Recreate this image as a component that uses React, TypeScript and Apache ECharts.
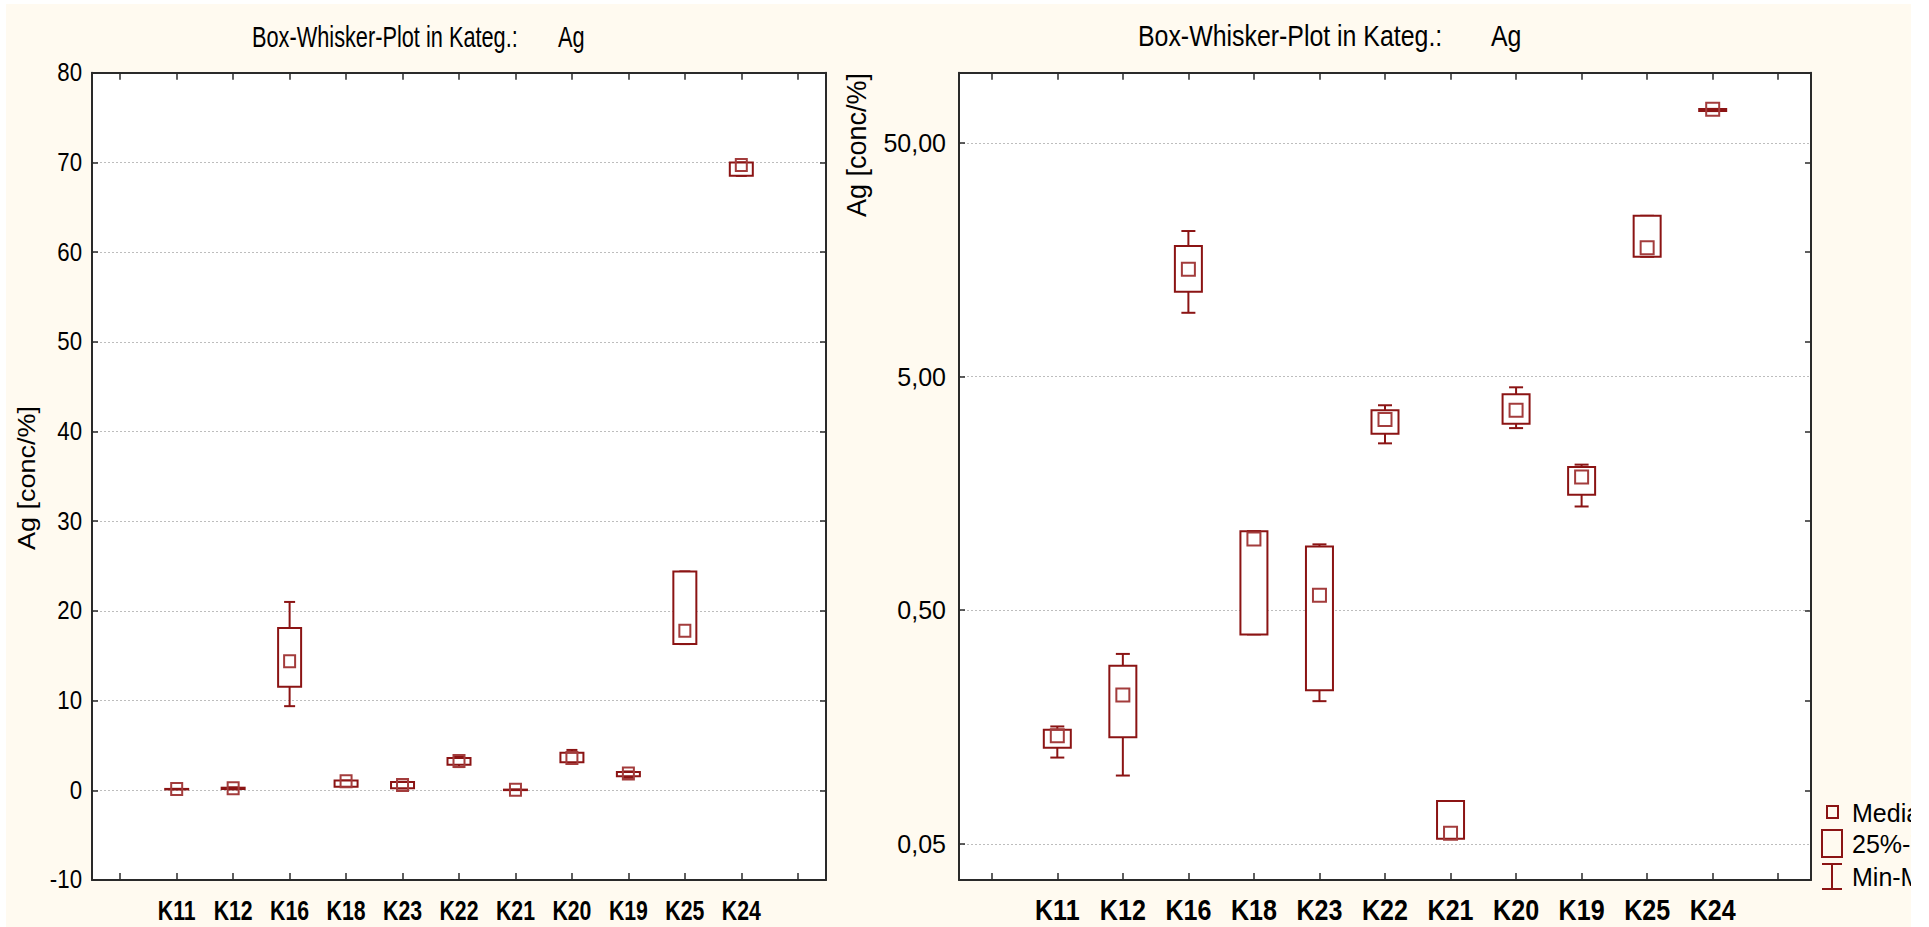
import React, { useEffect, useRef } from "react";
import * as echarts from "echarts";

// Categories in plotting order
const categories = ["K11", "K12", "K16", "K18", "K23", "K22", "K21", "K20", "K19", "K25", "K24"];

// Five-number summaries per category (Ag, conc/%)
const minValues = [0.117, 0.098, 9.38, 0.394, 0.204, 2.59, 0.0525, 3.01, 1.39, 16.3, 68.5];
const q1Values = [0.129, 0.143, 11.55, 0.394, 0.227, 2.85, 0.0525, 3.14, 1.56, 16.3, 68.5];
const medianValues = [0.145, 0.217, 14.4, 1.01, 0.58, 3.28, 0.0555, 3.59, 1.86, 17.8, 69.7];
const q3Values = [0.154, 0.289, 18.1, 1.09, 0.938, 3.59, 0.0762, 4.2, 2.05, 24.4, 70.0];
const maxValues = [0.159, 0.325, 21.0, 1.09, 0.957, 3.77, 0.0762, 4.5, 2.1, 24.4, 70.0];

// Axis ticks
const linearTickValues = [-10, 0, 10, 20, 30, 40, 50, 60, 70, 80];
const logTickValues = [0.05, 0.5, 5, 50];
const logTickLabels = ["0,05", "0,50", "5,00", "50,00"];

const titleText = "Box-Whisker-Plot in Kateg.:";
const variableName = "Ag";
const axisName = "Ag [conc/%]";
const legendLabels = ["Median", "25%-75%", "Min-Max"];

const FONT = '"Liberation Sans", Arial, sans-serif';
const BOX_COLOR = "#8B1414";
const MEDIAN_COLOR = "#A33C3C";
const AXIS_COLOR = "#2a2a2a";
const GRID_COLOR = "#bdbdbd";
const BG = "#FFFAF0";

// empty slot on each side of the category band
const axisCategories = [" ", ...categories, "  "];

const boxData = categories.map((c, i) => [
  axisCategories.indexOf(c),
  minValues[i],
  q1Values[i],
  medianValues[i],
  q3Values[i],
  maxValues[i],
]);

function makeRenderer(boxW: number, capW: number, medW: number, medH: number) {
  return (_params: any, api: any) => {
    const x = api.value(0);
    const pMin = api.coord([x, api.value(1)]);
    const pQ1 = api.coord([x, api.value(2)]);
    const pMed = api.coord([x, api.value(3)]);
    const pQ3 = api.coord([x, api.value(4)]);
    const pMax = api.coord([x, api.value(5)]);
    const cx = pMed[0];
    const ls = { stroke: BOX_COLOR, lineWidth: 2 };
    return {
      type: "group",
      children: [
        { type: "line", shape: { x1: cx, y1: pMax[1], x2: cx, y2: pQ3[1] }, style: ls },
        { type: "line", shape: { x1: cx - capW / 2, y1: pMax[1], x2: cx + capW / 2, y2: pMax[1] }, style: ls },
        { type: "line", shape: { x1: cx, y1: pQ1[1], x2: cx, y2: pMin[1] }, style: ls },
        { type: "line", shape: { x1: cx - capW / 2, y1: pMin[1], x2: cx + capW / 2, y2: pMin[1] }, style: ls },
        {
          type: "rect",
          shape: { x: cx - boxW / 2, y: pQ3[1], width: boxW, height: Math.max(pQ1[1] - pQ3[1], 0.5) },
          style: { ...ls, fill: "#fff" },
        },
        {
          type: "rect",
          shape: { x: cx - medW / 2, y: pMed[1] - medH / 2, width: medW, height: medH },
          style: { stroke: MEDIAN_COLOR, lineWidth: 2, fill: "none" },
        },
      ],
    };
  };
}

const tickStyle = { color: AXIS_COLOR, width: 1.5 };

function catAxis(gridIndex: number, position: "top" | "bottom") {
  return {
    type: "category",
    gridIndex,
    position,
    data: axisCategories,
    boundaryGap: true,
    axisLine: { show: true, onZero: false, lineStyle: { color: AXIS_COLOR, width: 2 } },
    axisTick: { show: true, inside: true, alignWithLabel: true, interval: 0, length: 7, lineStyle: tickStyle },
    // labels are drawn as condensed text elements placed with convertToPixel
    axisLabel: { show: false },
    splitLine: { show: false },
  };
}

// text element helper for titles, axis names, tick labels and legend entries
function label(text: string, x: number, y: number, size: number, extra: any = {}) {
  const { align, fontWeight, ...rest } = extra;
  return {
    type: "text",
    x,
    y,
    ...rest,
    style: {
      text,
      fontFamily: FONT,
      fontSize: size,
      fontWeight: fontWeight || "normal",
      fill: "#000",
      align: align || "left",
      verticalAlign: "middle",
    },
  };
}

const option: any = {
  animation: false,
  backgroundColor: BG,
  grid: [
    { left: 86, top: 68.7, width: 734, height: 807.3, show: true, backgroundColor: "#fff", borderWidth: 0 },
    { left: 953, top: 68.7, width: 852, height: 807.3, show: true, backgroundColor: "#fff", borderWidth: 0 },
  ],
  xAxis: [catAxis(0, "bottom"), catAxis(0, "top"), catAxis(1, "bottom"), catAxis(1, "top")],
  yAxis: [
    {
      type: "value",
      gridIndex: 0,
      position: "left",
      min: -10,
      max: 80,
      interval: 10,
      axisLine: { show: true, lineStyle: { color: AXIS_COLOR, width: 2 } },
      axisTick: { show: true, inside: true, length: 6, lineStyle: tickStyle },
      axisLabel: { show: false },
      splitLine: { show: true, lineStyle: { color: GRID_COLOR, width: 1, type: [2, 2] } },
    },
    {
      type: "value",
      gridIndex: 0,
      position: "right",
      min: -10,
      max: 80,
      interval: 10,
      axisLine: { show: true, lineStyle: { color: AXIS_COLOR, width: 2 } },
      axisTick: { show: true, inside: true, length: 6, lineStyle: tickStyle },
      axisLabel: { show: false },
      splitLine: { show: false },
    },
    {
      type: "log",
      logBase: 10,
      gridIndex: 1,
      position: "left",
      min: 0.035,
      max: 100,
      axisLine: { show: true, lineStyle: { color: AXIS_COLOR, width: 2 } },
      axisTick: { show: true, inside: true, length: 6, lineStyle: tickStyle, customValues: logTickValues },
      axisLabel: {
        customValues: logTickValues,
        fontFamily: FONT,
        fontSize: 25,
        color: "#000",
        margin: 13,
        formatter: (v: number) => {
          const i = logTickValues.findIndex((t) => Math.abs(t - v) / t < 1e-6);
          return i >= 0 ? logTickLabels[i] : "";
        },
      },
      splitLine: { show: true, lineStyle: { color: GRID_COLOR, width: 1, type: [2, 2] } },
      minorTick: { show: false },
    },
    {
      type: "value",
      gridIndex: 1,
      position: "right",
      min: -10,
      max: 80,
      interval: 10,
      axisLine: { show: true, lineStyle: { color: AXIS_COLOR, width: 2 } },
      axisTick: { show: true, inside: true, length: 6, lineStyle: tickStyle },
      axisLabel: { show: false },
      splitLine: { show: false },
    },
  ],
  series: [
    {
      type: "custom",
      xAxisIndex: 0,
      yAxisIndex: 0,
      renderItem: makeRenderer(23, 11, 11, 12),
      encode: { x: 0, y: [1, 2, 3, 4, 5] },
      data: boxData,
      z: 5,
    },
    {
      type: "custom",
      xAxisIndex: 2,
      yAxisIndex: 2,
      renderItem: makeRenderer(27, 14, 13, 13),
      encode: { x: 0, y: [1, 2, 3, 4, 5] },
      data: boxData,
      z: 5,
    },
  ],
};

const staticGraphics: any[] = [
  // panel titles, horizontally condensed
  label(titleText, 246, 32.5, 30, { scaleX: 0.725 }),
  label(variableName, 552, 32.5, 30, { scaleX: 0.725 }),
  label(titleText, 1132, 31.3, 30, { scaleX: 0.83 }),
  label(variableName, 1485, 31.3, 30, { scaleX: 0.83 }),
  // y axis names
  label(axisName, 21, 474, 27, { rotation: Math.PI / 2, align: "center", scaleY: 0.88 }),
  label(axisName, 851, 141, 27, { rotation: Math.PI / 2, align: "center" }),
  // legend
  { type: "rect", shape: { x: 1821, y: 802, width: 11, height: 12 }, style: { stroke: BOX_COLOR, lineWidth: 2, fill: "none" } },
  label(legendLabels[0], 1846, 809, 25),
  { type: "rect", shape: { x: 1816, y: 826, width: 20, height: 27 }, style: { stroke: BOX_COLOR, lineWidth: 2, fill: "none" } },
  label(legendLabels[1], 1846, 840, 25),
  { type: "line", shape: { x1: 1816, y1: 860, x2: 1836, y2: 860 }, style: { stroke: BOX_COLOR, lineWidth: 2 } },
  { type: "line", shape: { x1: 1826, y1: 860, x2: 1826, y2: 885 }, style: { stroke: BOX_COLOR, lineWidth: 2 } },
  { type: "line", shape: { x1: 1816, y1: 885, x2: 1836, y2: 885 }, style: { stroke: BOX_COLOR, lineWidth: 2 } },
  label(legendLabels[2], 1846, 873, 25),
];

// Condensed tick labels, positioned through the axes' own scales
function tickLabels(chart: any) {
  const out: any[] = [];
  const leftBottom = chart.convertToPixel({ yAxisIndex: 0 }, -10);
  const rightBottom = chart.convertToPixel({ yAxisIndex: 3 }, -10);
  const leftAxisX = chart.convertToPixel({ xAxisIndex: 0 }, 0) - 28.2;
  categories.forEach((c) => {
    const xl = chart.convertToPixel({ xAxisIndex: 0 }, c);
    out.push(label(c, xl, leftBottom + 30, 28, { align: "center", fontWeight: "bold", scaleX: 0.76 }));
    const xr = chart.convertToPixel({ xAxisIndex: 2 }, c);
    out.push(label(c, xr, rightBottom + 30, 29, { align: "center", fontWeight: "bold", scaleX: 0.865 }));
  });
  linearTickValues.forEach((v) => {
    const y = chart.convertToPixel({ yAxisIndex: 0 }, v);
    out.push(label(String(v), leftAxisX - 10, y, 25, { align: "right", scaleX: 0.89 }));
  });
  return out;
}

export default function App() {
  const ref = useRef<HTMLDivElement>(null);
  useEffect(() => {
    if (!ref.current) return;
    const chart = echarts.init(ref.current, null, { renderer: "svg" });
    chart.setOption(option);
    chart.setOption({ graphic: [...staticGraphics, ...tickLabels(chart)] });
    return () => chart.dispose();
  }, []);
  return (
    <div style={{ position: "fixed", left: 0, top: 0, width: 1929, height: 927, background: "#fff", overflow: "hidden" }}>
      <div ref={ref} style={{ position: "absolute", left: 6, top: 4, width: 1905, height: 923, overflow: "hidden" }} />
    </div>
  );
}
